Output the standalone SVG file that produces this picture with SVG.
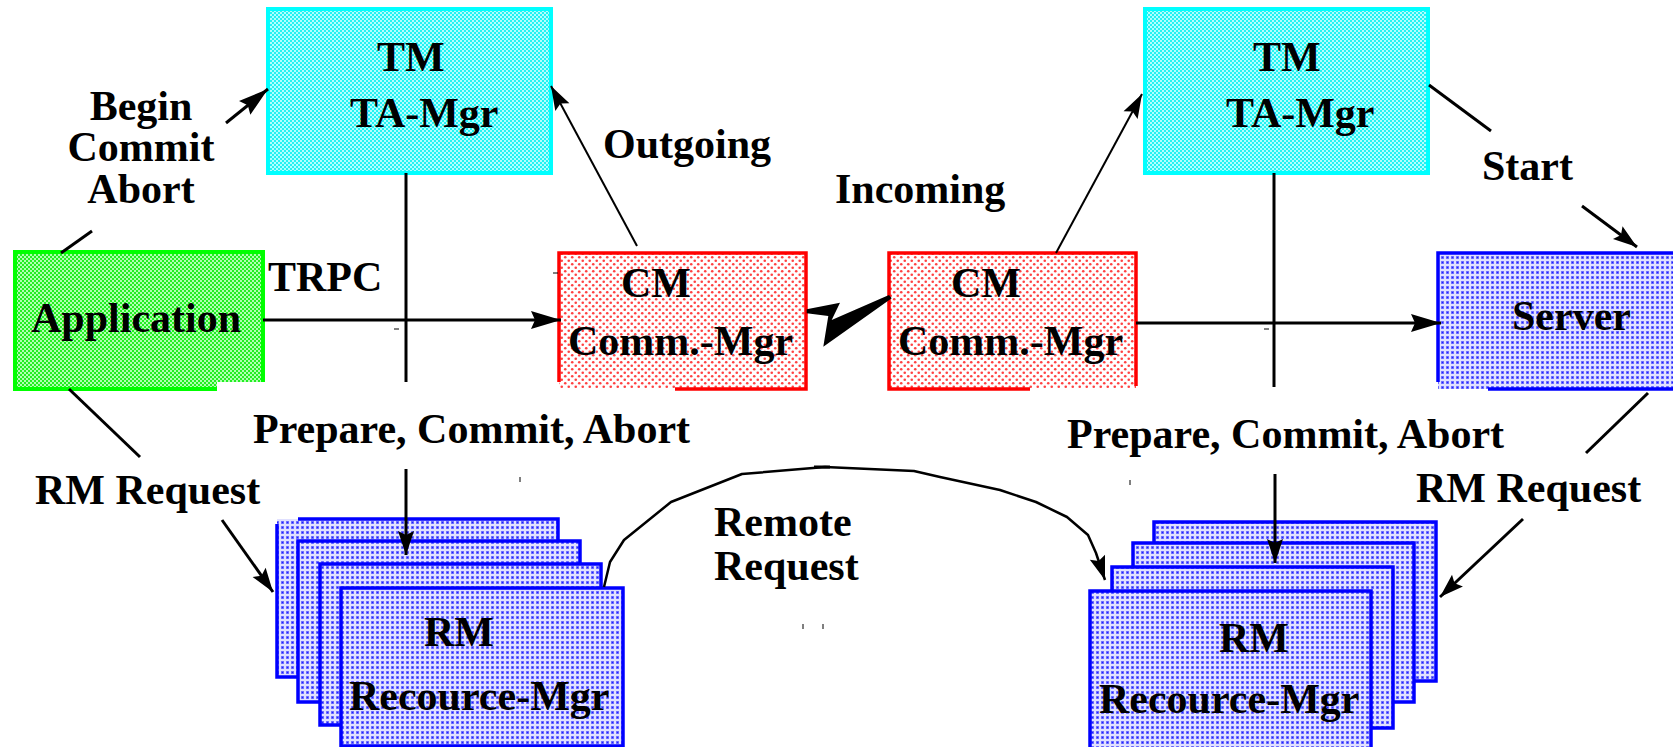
<svg xmlns="http://www.w3.org/2000/svg" width="1673" height="747" viewBox="0 0 1673 747">
  <defs>
    <!-- halftone fills -->
    <pattern id="patCyan" width="4" height="4" patternUnits="userSpaceOnUse">
      <rect width="4" height="4" fill="#22f2f2"/>
      <rect width="2" height="2" fill="#b0ffff"/>
      <rect x="2" y="2" width="2" height="2" fill="#b0ffff"/>
    </pattern>
    <pattern id="patGreen" width="4" height="4" patternUnits="userSpaceOnUse">
      <rect width="4" height="4" fill="#22ee22"/>
      <rect width="2" height="2" fill="#b0ffb0"/>
      <rect x="2" y="2" width="2" height="2" fill="#b0ffb0"/>
    </pattern>
    <pattern id="patRed" width="7" height="7" patternUnits="userSpaceOnUse">
      <rect width="7" height="7" fill="#ffffff"/>
      <circle cx="1.75" cy="1.75" r="1.3" fill="#ff2020" opacity="0.85"/>
      <circle cx="5.25" cy="5.25" r="1.3" fill="#ff2020" opacity="0.85"/>
    </pattern>
    <pattern id="patBlue" width="5" height="5" patternUnits="userSpaceOnUse">
      <rect width="5" height="5" fill="#e0e0ff"/>
      <rect x="1" y="1" width="3" height="3" fill="#7878ff"/>
      <rect x="1.8" y="1.8" width="1.4" height="1.4" fill="#2020ff"/>
    </pattern>
    <marker id="arrow" viewBox="-32 -11 34 22" markerWidth="34" markerHeight="22" refX="0" refY="0" orient="auto" markerUnits="userSpaceOnUse">
      <path d="M0,0 L-30,-9 L-26,0 L-30,9 Z" fill="#000"/>
    </marker>
    <marker id="arrowS" viewBox="-26 -9 28 18" markerWidth="28" markerHeight="18" refX="0" refY="0" orient="auto" markerUnits="userSpaceOnUse">
      <path d="M0,0 L-24,-8 L-20,0 L-24,8 Z" fill="#000"/>
    </marker>
  </defs>
  <style>
    .lbl { font-family: "Liberation Serif", "Times New Roman", serif; font-weight: bold; font-size: 42px; fill: #000; }
    .cyanB { fill: none; stroke: #00ffff; stroke-width: 4; }
    .greenB { fill: none; stroke: #00ff00; stroke-width: 4; }
    .redB { fill: none; stroke: #ff0000; stroke-width: 3.5; }
    .blueB { fill: none; stroke: #0000ff; stroke-width: 3.5; }
    .ln { fill: none; stroke: #000; stroke-width: 3; }
    .thin { fill: none; stroke: #000; stroke-width: 2; }
    .tick { fill: none; stroke: #000; stroke-width: 1; }
  </style>

  <g id="tm-left">
    <rect x="268" y="9" width="283" height="164" fill="url(#patCyan)"/>
    <rect class="cyanB" x="268" y="9" width="283" height="164"/>
    <text class="lbl" x="377" y="71">TM</text>
    <text class="lbl" x="350" y="127">TA-Mgr</text>
  </g>

  <g id="tm-right">
    <rect x="1145" y="9" width="283" height="164" fill="url(#patCyan)"/>
    <rect class="cyanB" x="1145" y="9" width="283" height="164"/>
    <text class="lbl" x="1253" y="71">TM</text>
    <text class="lbl" x="1226" y="127">TA-Mgr</text>
  </g>

  <g id="application">
    <path d="M15,252 H263 V382 H217 V389 H15 Z" fill="url(#patGreen)"/>
    <path class="greenB" d="M217,389 H15 V252 H263 V382"/>
    <text class="lbl" x="31" y="332">Application</text>
  </g>

  <g id="cm-left">
    <rect x="559" y="253" width="247" height="136" fill="url(#patRed)"/>
    <path class="redB" d="M559,382 V253 H806 V389 H675"/>
    <text class="lbl" x="621" y="297">CM</text>
    <text class="lbl" x="568" y="355">Comm.-Mgr</text>
  </g>

  <g id="cm-right">
    <rect x="889" y="253" width="247" height="136" fill="url(#patRed)"/>
    <path class="redB" d="M1030,389 H889 V253 H1136 V386"/>
    <text class="lbl" x="951" y="297">CM</text>
    <text class="lbl" x="898" y="355">Comm.-Mgr</text>
  </g>

  <g id="server">
    <rect x="1438" y="253" width="240" height="136" fill="url(#patBlue)"/>
    <path class="blueB" d="M1438,382 V253 H1678 M1488,389 H1678"/>
    <text class="lbl" x="1512" y="330">Server</text>
  </g>

  <g id="rm-left">
    <rect x="277" y="519" width="281" height="158" fill="url(#patBlue)"/>
    <path class="blueB" d="M298,519 H558 V677 H277 V524"/>
    <rect x="298" y="541" width="282" height="161" fill="url(#patBlue)"/>
    <rect class="blueB" x="298" y="541" width="282" height="161"/>
    <rect x="320" y="564" width="281" height="161" fill="url(#patBlue)"/>
    <rect class="blueB" x="320" y="564" width="281" height="161"/>
    <rect x="341" y="588" width="282" height="158" fill="url(#patBlue)"/>
    <rect class="blueB" x="341" y="588" width="282" height="158"/>
    <text class="lbl" x="424" y="646">RM</text>
    <text class="lbl" x="349" y="710">Recource-Mgr</text>
  </g>

  <g id="rm-right">
    <rect x="1154" y="522" width="282" height="159" fill="url(#patBlue)"/>
    <rect class="blueB" x="1154" y="522" width="282" height="159"/>
    <rect x="1133" y="543" width="281" height="159" fill="url(#patBlue)"/>
    <rect class="blueB" x="1133" y="543" width="281" height="159"/>
    <rect x="1112" y="567" width="281" height="161" fill="url(#patBlue)"/>
    <rect class="blueB" x="1112" y="567" width="281" height="161"/>
    <rect x="1090" y="591" width="281" height="162" fill="url(#patBlue)"/>
    <rect class="blueB" x="1090" y="591" width="281" height="162"/>
    <text class="lbl" x="1219" y="652">RM</text>
    <text class="lbl" x="1099" y="713">Recource-Mgr</text>
  </g>

  <!-- connectors, drawn over the boxes so the arrow tips stay visible -->
  <g id="connectors">
    <!-- TM vertical lines -->
    <line class="ln" x1="406" y1="173" x2="406" y2="382"/>
    <line class="ln" x1="1274" y1="173" x2="1274" y2="387"/>
    <!-- TRPC call Application -> CM -->
    <line class="ln" x1="263" y1="320" x2="561" y2="320" marker-end="url(#arrow)"/>
    <!-- CM -> Server -->
    <line class="ln" x1="1136" y1="323" x2="1441" y2="323" marker-end="url(#arrow)"/>
    <!-- Begin / Commit / Abort -->
    <line class="ln" x1="61" y1="253" x2="92" y2="231"/>
    <line class="ln" x1="226" y1="123" x2="268" y2="89" marker-end="url(#arrow)"/>
    <!-- Outgoing / Incoming -->
    <line class="thin" x1="637" y1="246" x2="551" y2="86" marker-end="url(#arrowS)"/>
    <line class="thin" x1="1056" y1="253" x2="1142" y2="94" marker-end="url(#arrowS)"/>
    <!-- Start -->
    <line class="ln" x1="1429" y1="85" x2="1491" y2="131"/>
    <line class="ln" x1="1582" y1="206" x2="1637" y2="247" marker-end="url(#arrowS)"/>
    <!-- Prepare, Commit, Abort -->
    <line class="ln" x1="406" y1="469" x2="406" y2="555" marker-end="url(#arrowS)"/>
    <line class="ln" x1="1275" y1="474" x2="1275" y2="563" marker-end="url(#arrowS)"/>
    <!-- RM Request -->
    <line class="ln" x1="69" y1="389" x2="140" y2="457"/>
    <line class="ln" x1="222" y1="520" x2="273" y2="592" marker-end="url(#arrowS)"/>
    <line class="ln" x1="1648" y1="393" x2="1586" y2="453"/>
    <line class="ln" x1="1523" y1="519" x2="1440" y2="597" marker-end="url(#arrowS)"/>
    <!-- Remote Request -->
    <polyline fill="none" stroke="#000" stroke-width="2.5" stroke-linejoin="round" points="604,587 610,562 624,540 671,502 742,474 825,467 914,471 940,477 1000,490 1036,502 1067,517 1088,535 1096,553 1105,580" marker-end="url(#arrowS)"/>
    <line stroke="#000" stroke-width="3" x1="814" y1="467" x2="830" y2="467"/>
    <!-- link between the communication managers -->
    <polygon points="806.7,309.3 840,302.7 831.7,320 889,295 891.7,298.3 823.3,346.7 828.3,316 806.7,313.3" fill="#000"/>
    <!-- small stray marks -->
    <line class="tick" x1="394" y1="329" x2="399" y2="329"/>
    <line class="tick" x1="553" y1="273" x2="558" y2="273"/>
    <line class="tick" x1="1264" y1="329" x2="1269" y2="329"/>
    <line class="tick" x1="520" y1="477" x2="520" y2="482"/>
    <line class="tick" x1="803" y1="624" x2="803" y2="629"/>
    <line class="tick" x1="823" y1="624" x2="823" y2="629"/>
    <line class="tick" x1="1130" y1="480" x2="1130" y2="485"/>
  </g>

  <g id="labels">
    <text class="lbl" x="141" y="120" text-anchor="middle">Begin</text>
    <text class="lbl" x="141" y="161" text-anchor="middle">Commit</text>
    <text class="lbl" x="141" y="203" text-anchor="middle">Abort</text>
    <text class="lbl" x="268" y="291">TRPC</text>
    <text class="lbl" x="603" y="158">Outgoing</text>
    <text class="lbl" x="835" y="203">Incoming</text>
    <text class="lbl" x="1482" y="180">Start</text>
    <text class="lbl" x="253" y="443">Prepare, Commit, Abort</text>
    <text class="lbl" x="1067" y="448">Prepare, Commit, Abort</text>
    <text class="lbl" x="35" y="504">RM Request</text>
    <text class="lbl" x="1416" y="502">RM Request</text>
    <text class="lbl" x="714" y="536">Remote</text>
    <text class="lbl" x="714" y="580">Request</text>
  </g>
</svg>
